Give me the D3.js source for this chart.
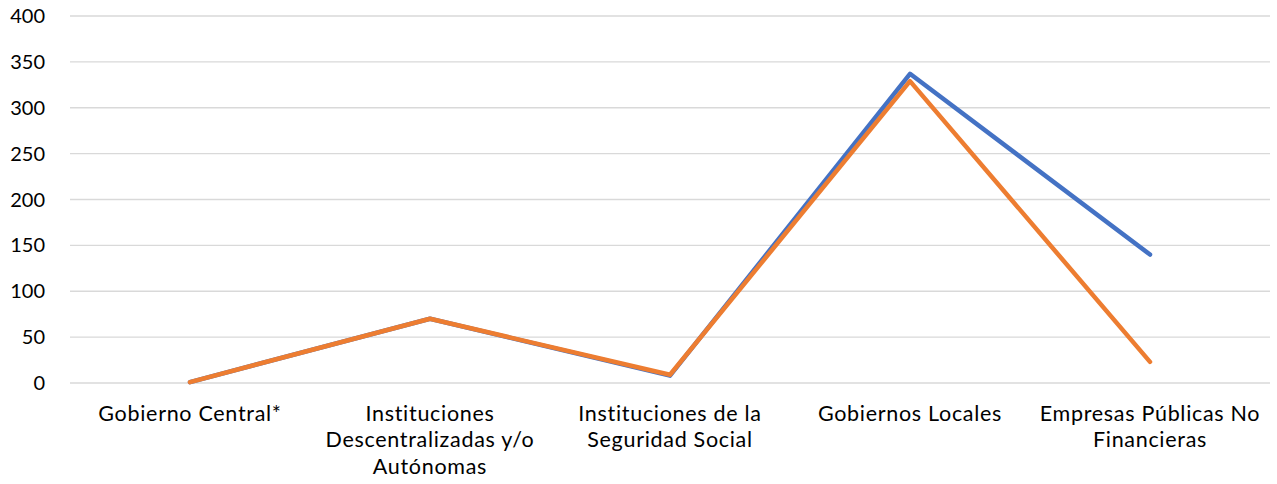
<!DOCTYPE html>
<html><head><meta charset="utf-8">
<script src="https://cdn.jsdelivr.net/npm/d3@7"></script>
<style>body{margin:0;background:#fff;} text{font-family:Lato,"Open Sans",sans-serif;}</style>
</head><body><svg id="c" width="1277" height="484"></svg>
<script>
const categories = [["Gobierno Central*"],["Instituciones","Descentralizadas y/o","Autónomas"],["Instituciones de la","Seguridad Social"],["Gobiernos Locales"],["Empresas Públicas No","Financieras"]];
const seriesBlue = [1, 70, 8, 337, 140];
const seriesOrange = [1, 70, 9, 329, 23];
const yTicks = [0,50,100,150,200,250,300,350,400];

const svg = d3.select("#c");
const mLeft = 70, mRight = 1270, mTop = 16, mBottom = 383;
const x = d3.scaleBand().domain(d3.range(categories.length)).range([mLeft,mRight]);
const y = d3.scaleLinear().domain([0,400]).range([mBottom,mTop]);

svg.append("g").selectAll("line").data(yTicks).join("line")
  .attr("x1",mLeft).attr("x2",mRight).attr("y1",d=>y(d)).attr("y2",d=>y(d))
  .attr("stroke","#d9d9d9").attr("stroke-width",1.3);
svg.append("g").selectAll("text").data(yTicks).join("text")
  .attr("x",45).attr("y",d=>y(d)).attr("dy","0.35em").attr("text-anchor","end")
  .attr("font-size",20).attr("fill","#000").text(d=>d);

const line = d3.line().x((d,i)=>x(i)+x.bandwidth()/2).y(d=>y(d));
[[seriesBlue,"#4472C4"],[seriesOrange,"#ED7D31"]].forEach(([s,c])=>{
  svg.append("path").datum(s).attr("d",line).attr("fill","none").attr("stroke",c)
    .attr("stroke-width",4.5).attr("stroke-linecap","round").attr("stroke-linejoin","round");
});

const lab = svg.append("g").selectAll("text").data(categories).join("text")
  .attr("text-anchor","middle").attr("font-size",21.5).attr("letter-spacing",0.7).attr("fill","#000");
lab.each(function(d,i){
  d3.select(this).selectAll("tspan").data(d).join("tspan")
    .attr("x",x(i)+x.bandwidth()/2).attr("y",(t,j)=>420.5+j*26.5).text(t=>t);
});
</script></body></html>
